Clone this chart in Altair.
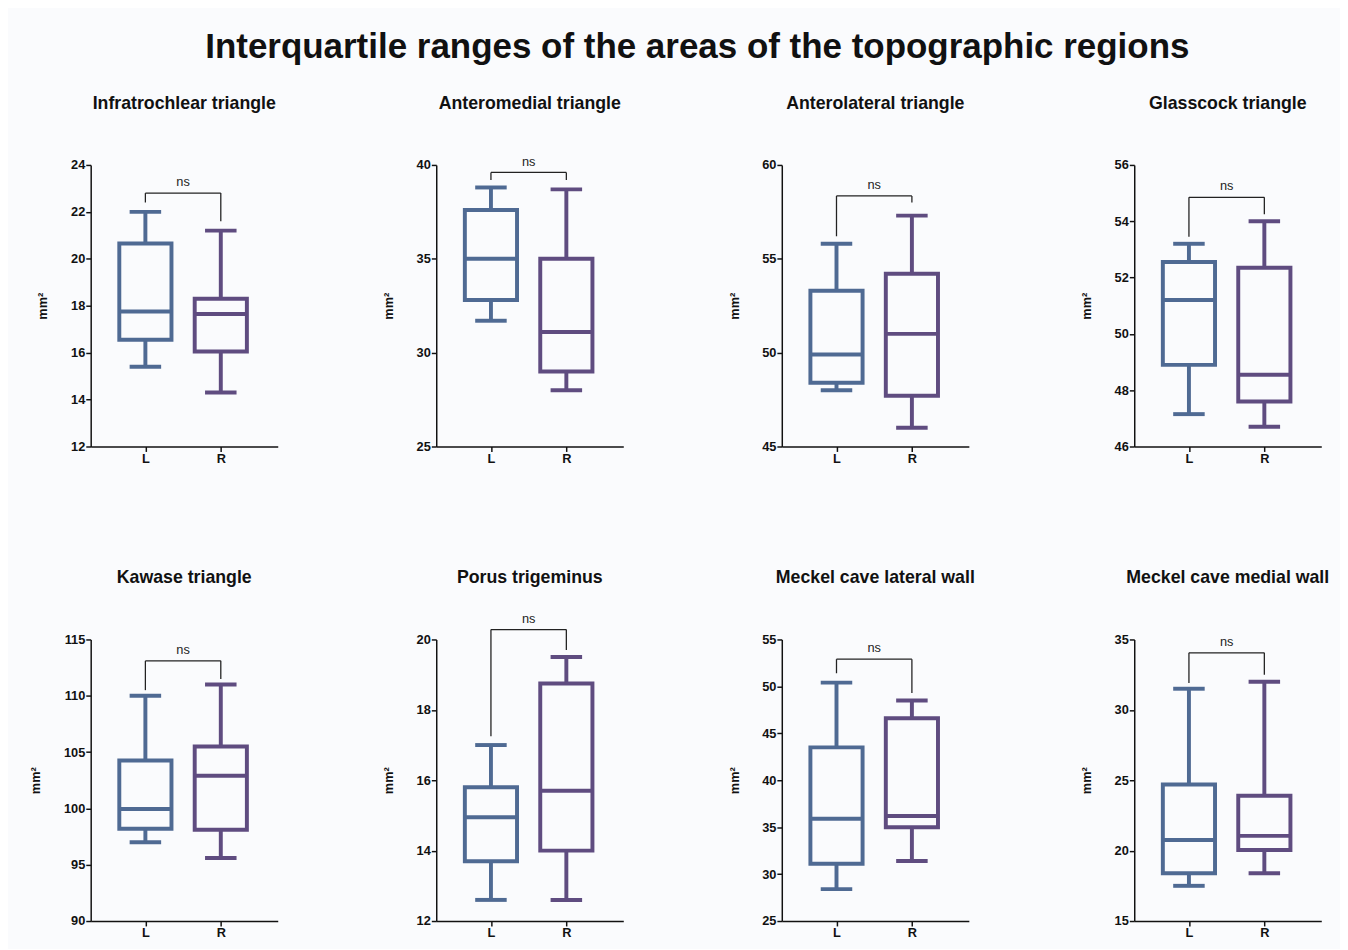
import altair as alt
import pandas as pd

FONT = "Liberation Sans"
BG = "#fafbfd"
C_L = "#4f6a93"
C_R = "#5f4c80"

titles = ["Infratrochlear triangle", "Anteromedial triangle", "Anterolateral triangle",
          "Glasscock triangle", "Kawase triangle", "Porus trigeminus",
          "Meckel cave lateral wall", "Meckel cave medial wall"]
sides = ["L", "R"]
side_pos = [1, 2]

y_lo = [12, 25, 45, 46, 90, 12, 25, 15]
y_hi = [24, 40, 60, 56, 115, 20, 55, 35]
y_step = [2, 5, 5, 2, 5, 2, 5, 5]

L_min = [15.4, 31.7, 48.0, 47.15, 97.0, 12.6, 28.4, 17.5]
L_q1 = [16.55, 32.8, 48.4, 48.9, 98.2, 13.7, 31.1, 18.4]
L_med = [17.75, 35.0, 49.9, 51.2, 99.95, 14.95, 35.9, 20.75]
L_q3 = [20.65, 37.6, 53.3, 52.55, 104.25, 15.8, 43.5, 24.7]
L_max = [22.0, 38.8, 55.8, 53.2, 110.0, 17.0, 50.4, 31.5]

R_min = [14.3, 28.0, 46.0, 46.7, 95.6, 12.6, 31.4, 18.4]
R_q1 = [16.05, 29.0, 47.7, 47.6, 98.1, 14.0, 35.0, 20.05]
R_med = [17.65, 31.1, 51.0, 48.55, 102.9, 15.7, 36.2, 21.05]
R_q3 = [18.3, 35.0, 54.2, 52.35, 105.5, 18.75, 46.6, 23.9]
R_max = [21.2, 38.7, 57.3, 54.0, 111.0, 19.5, 48.5, 32.0]

br_y = [22.8, 39.6, 58.35, 54.85, 113.1, 20.28, 52.9, 34.05]
br_L = [22.4, 39.2, 56.2, 53.45, 110.5, 17.25, 51.4, 31.9]
br_R = [21.6, 39.2, 58.0, 54.25, 111.5, 19.7, 49.3, 32.5]
br_label = "ns"

W, H = 190, 286


def panel(i):
    box = pd.DataFrame({
        "side": sides, "pos": side_pos,
        "lo": [L_min[i], R_min[i]], "q1": [L_q1[i], R_q1[i]],
        "med": [L_med[i], R_med[i]], "q3": [L_q3[i], R_q3[i]],
        "hi": [L_max[i], R_max[i]],
    })
    br = pd.DataFrame({"x1": [side_pos[0]], "x2": [side_pos[1]],
                       "xm": [(side_pos[0] + side_pos[1]) / 2],
                       "yb": [br_y[i]], "yl": [br_L[i]], "yr": [br_R[i]],
                       "lab": [br_label]})
    ticks = list(range(y_lo[i], y_hi[i] + 1, y_step[i]))
    xsc = alt.Scale(domain=[0.34, 2.69], nice=False, zero=False)
    ysc = alt.Scale(domain=[y_lo[i], y_hi[i]], nice=False, zero=False)
    xax = alt.Axis(values=side_pos, labelExpr="datum.value == 1 ? 'L' : 'R'",
                   title=None, grid=False, domainColor="#111", domainWidth=1.5,
                   tickColor="#111", tickWidth=1.5, tickSize=5,
                   labelFont=FONT, labelFontWeight="bold", labelFontSize=13,
                   labelColor="#111", labelPadding=1)
    yax = alt.Axis(values=ticks, title="mm²", grid=False, domainColor="#111",
                   domainWidth=1.5, tickColor="#111", tickWidth=1.5, tickSize=5,
                   labelFont=FONT, labelFontWeight="bold", labelFontSize=13,
                   labelColor="#111", labelPadding=1, titleFont=FONT,
                   titleFontWeight="bold", titleFontSize=13, titleColor="#111",
                   titlePadding=21)
    col = alt.Color("side:N", scale=alt.Scale(domain=sides, range=[C_L, C_R]), legend=None)
    strk = alt.Stroke("side:N", scale=alt.Scale(domain=sides, range=[C_L, C_R]), legend=None)
    X = lambda f: alt.X(f, type="quantitative", scale=xsc, axis=xax)
    Y = lambda f: alt.Y(f, type="quantitative", scale=ysc, axis=yax)

    base = alt.Chart(box)
    wlo = base.mark_rule(strokeWidth=4, opacity=1).encode(x=X("pos"), y=Y("lo"), y2="q1", color=col)
    whi = base.mark_rule(strokeWidth=4, opacity=1).encode(x=X("pos"), y=Y("q3"), y2="hi", color=col)
    caplo = base.mark_tick(orient="horizontal", size=32, thickness=4, opacity=1).encode(
        x=X("pos"), y=Y("lo"), color=col)
    caphi = base.mark_tick(orient="horizontal", size=32, thickness=4, opacity=1).encode(
        x=X("pos"), y=Y("hi"), color=col)
    bx = base.mark_bar(size=53, fill=BG, strokeWidth=4, opacity=1).encode(
        x=X("pos"), y=Y("q1"), y2="q3", stroke=strk)
    md = base.mark_tick(orient="horizontal", size=53, thickness=4, opacity=1).encode(
        x=X("pos"), y=Y("med"), color=col)

    bb = alt.Chart(br)
    h = bb.mark_rule(color="#222", strokeWidth=1.3).encode(x=X("x1"), x2="x2", y=Y("yb"))
    vl = bb.mark_rule(color="#222", strokeWidth=1.3).encode(x=X("x1"), y=Y("yl"), y2="yb")
    vr = bb.mark_rule(color="#222", strokeWidth=1.3).encode(x=X("x2"), y=Y("yr"), y2="yb")
    tx = bb.mark_text(font=FONT, fontSize=13, color="#222", dy=-4, baseline="bottom").encode(
        x=X("xm"), y=Y("yb"), text="lab:N")

    ttl = alt.Chart(pd.DataFrame({"t": [titles[i]]})).mark_text(
        font=FONT, fontSize=18, fontWeight="bold", color="#111",
        align="center", baseline="alphabetic").encode(
        x=alt.value(W / 2), y=alt.value(-57), text="t:N")

    return alt.layer(wlo, whi, caplo, caphi, bx, md, h, vl, vr, tx, ttl).properties(
        width=W, height=H)


chart = alt.concat(*[panel(i) for i in range(8)], columns=4,
                   spacing={"row": 106, "column": 106}).properties(
    title=alt.TitleParams("Interquartile ranges of the areas of the topographic regions",
                          font=FONT, fontSize=35.5, fontWeight="bold", color="#111",
                          anchor="middle", offset=30, dx=18),
    padding={"left": 22, "top": 15, "right": 10, "bottom": 2},
    background=BG,
).configure_view(stroke=None)

chart.save("out.html", embed_options={"renderer": "svg", "actions": False})
